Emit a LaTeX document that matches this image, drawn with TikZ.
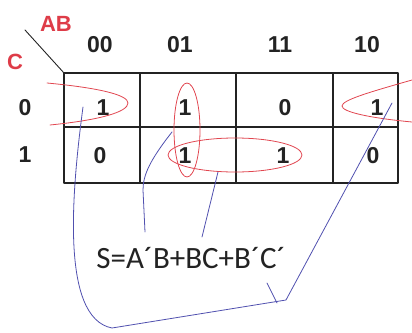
\documentclass[tikz,border=0pt]{standalone}
\usepackage{fontspec}
\setmainfont{Liberation Sans}
\newfontfamily\calfont{Carlito}
\definecolor{redlbl}{RGB}{222,60,72}
\definecolor{redloop}{RGB}{225,70,80}
\definecolor{bluelink}{RGB}{80,80,175}
\definecolor{gridc}{RGB}{35,35,35}
\begin{document}
\begin{tikzpicture}[x=1pt, y=-1pt, line join=round, line cap=round,
	cell/.style={text=gridc, font=\fontsize{23}{23}\selectfont\bfseries},
	lbl/.style={text=redlbl, font=\fontsize{22}{22}\selectfont\bfseries},
	loop/.style={draw=redloop, line width=0.8pt},
	link/.style={draw=bluelink, line width=0.8pt}]
	\useasboundingbox (0,0) rectangle (412,332);
	% grid
	\draw[gridc, line width=1.6pt] (64,73) rectangle (398,183);
	\draw[gridc, line width=1.6pt] (64,127)--(398,127);
	\foreach \c in {140,236,333} \draw[gridc, line width=1.6pt] (\c,73)--(\c,183);
	\draw[gridc, line width=0.9pt] (25,30)--(64,73);
	% labels
	\node[lbl] (ab) at (56,24) {AB};
	\node[lbl] (c) at (15,62) {C};
	\node[cell] (h00) at (100,45) {00};
	\node[cell] (h01) at (180,45) {01};
	\node[cell] (h11) at (280,45) {11};
	\node[cell] (h10) at (367,45) {10};
	\node[cell] (r0) at (25,108) {0};
	\node[cell] (r1) at (25,155) {1};
	% cells
	\node[cell] (m0) at (103,108) {1};
	\node[cell] (m2) at (185,108) {1};
	\node[cell] (m6) at (285,108) {0};
	\node[cell] (m4) at (377,108) {1};
	\node[cell] (m1) at (100,156) {0};
	\node[cell] (m3) at (185,156) {1};
	\node[cell] (m7) at (283,156) {1};
	\node[cell] (m5) at (373,156) {0};
	% groups
	\draw[loop] (47,83) .. controls (100,88) and (128,95) .. (128,103) .. controls (128,112) and (100,120) .. (50,125);
	\draw[loop] (412,80) .. controls (370,92) and (342,100) .. (342,106) .. controls (342,112) and (370,118) .. (412,122);
	\draw[loop] (187,130) ellipse (13 and 47);
	\draw[loop] (235,155) ellipse (67 and 17);
	% result
	\node[font=\fontsize{31}{31}\selectfont\calfont, text=gridc] (s) at (191,258) {S=A´B+BC+B´C´};
	\coordinate (j) at (286,300);
	\draw[link] (83,107) .. controls (72,190) and (60,318) .. (112,328) -- (j) -- (392,103);
	\draw[link] (267,283)--(277,303);
	\draw[link] (172,132) .. controls (150,160) and (143,175) .. (143,190) -- (145,232);
	\draw[link] (218,172)--(202,237);
\end{tikzpicture}
\end{document}
